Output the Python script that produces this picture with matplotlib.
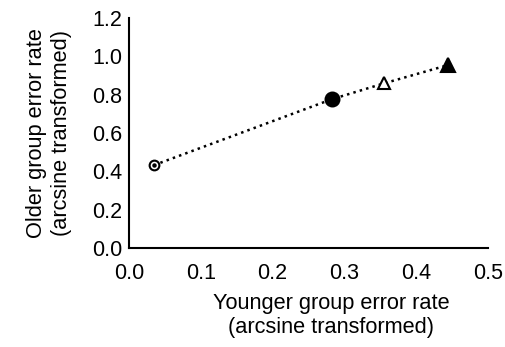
import matplotlib
matplotlib.use("Agg")
import matplotlib.pyplot as plt

# values
younger = [0.035, 0.283, 0.356, 0.445]
older = [0.433, 0.777, 0.860, 0.955]
markers = ["o", "o", "^", "^"]
filled = [False, True, False, True]
sizes = [7, 10, 8.5, 9.5]

plt.rcParams["font.family"] = ["Liberation Sans", "DejaVu Sans"]

fig = plt.figure(figsize=(5.06, 3.47), dpi=100)
ax = fig.add_axes([0.255, 0.285, 0.709, 0.663])

ax.plot(younger, older, linestyle=":", color="black", linewidth=1.8, zorder=1)
for x, y, m, f, s in zip(younger, older, markers, filled, sizes):
    ax.plot(x, y, marker=m, markersize=s, color="black",
            markerfacecolor="black" if f else "white",
            markeredgewidth=1.5, linestyle="none", zorder=2)
# centre dot of the open circle
ax.plot(younger[0], older[0], marker="o", markersize=2.2, color="black",
        linestyle="none", zorder=3)

ax.set_xlim(0, 0.5)
ax.set_ylim(0, 1.2)
ax.set_xticks([0.0, 0.1, 0.2, 0.3, 0.4, 0.5])
ax.set_yticks([0.0, 0.2, 0.4, 0.6, 0.8, 1.0, 1.2])
ax.xaxis.set_major_formatter(plt.FormatStrFormatter("%.1f"))
ax.yaxis.set_major_formatter(plt.FormatStrFormatter("%.1f"))
ax.tick_params(length=0, labelsize=15.5)
ax.tick_params(axis="x", pad=11)
ax.tick_params(axis="y", pad=5)
ax.spines["top"].set_visible(False)
ax.spines["right"].set_visible(False)
ax.spines["left"].set_linewidth(1.5)
ax.spines["bottom"].set_linewidth(1.5)

ax.set_xlabel("Younger group error rate\n(arcsine transformed)", fontsize=15.7)
ax.set_ylabel("Older group error rate\n(arcsine transformed)", fontsize=15.7)
ax.xaxis.set_label_coords(0.563, -0.195)
ax.yaxis.set_label_coords(-0.16, 0.5)

fig.savefig("out.png", dpi=100)
